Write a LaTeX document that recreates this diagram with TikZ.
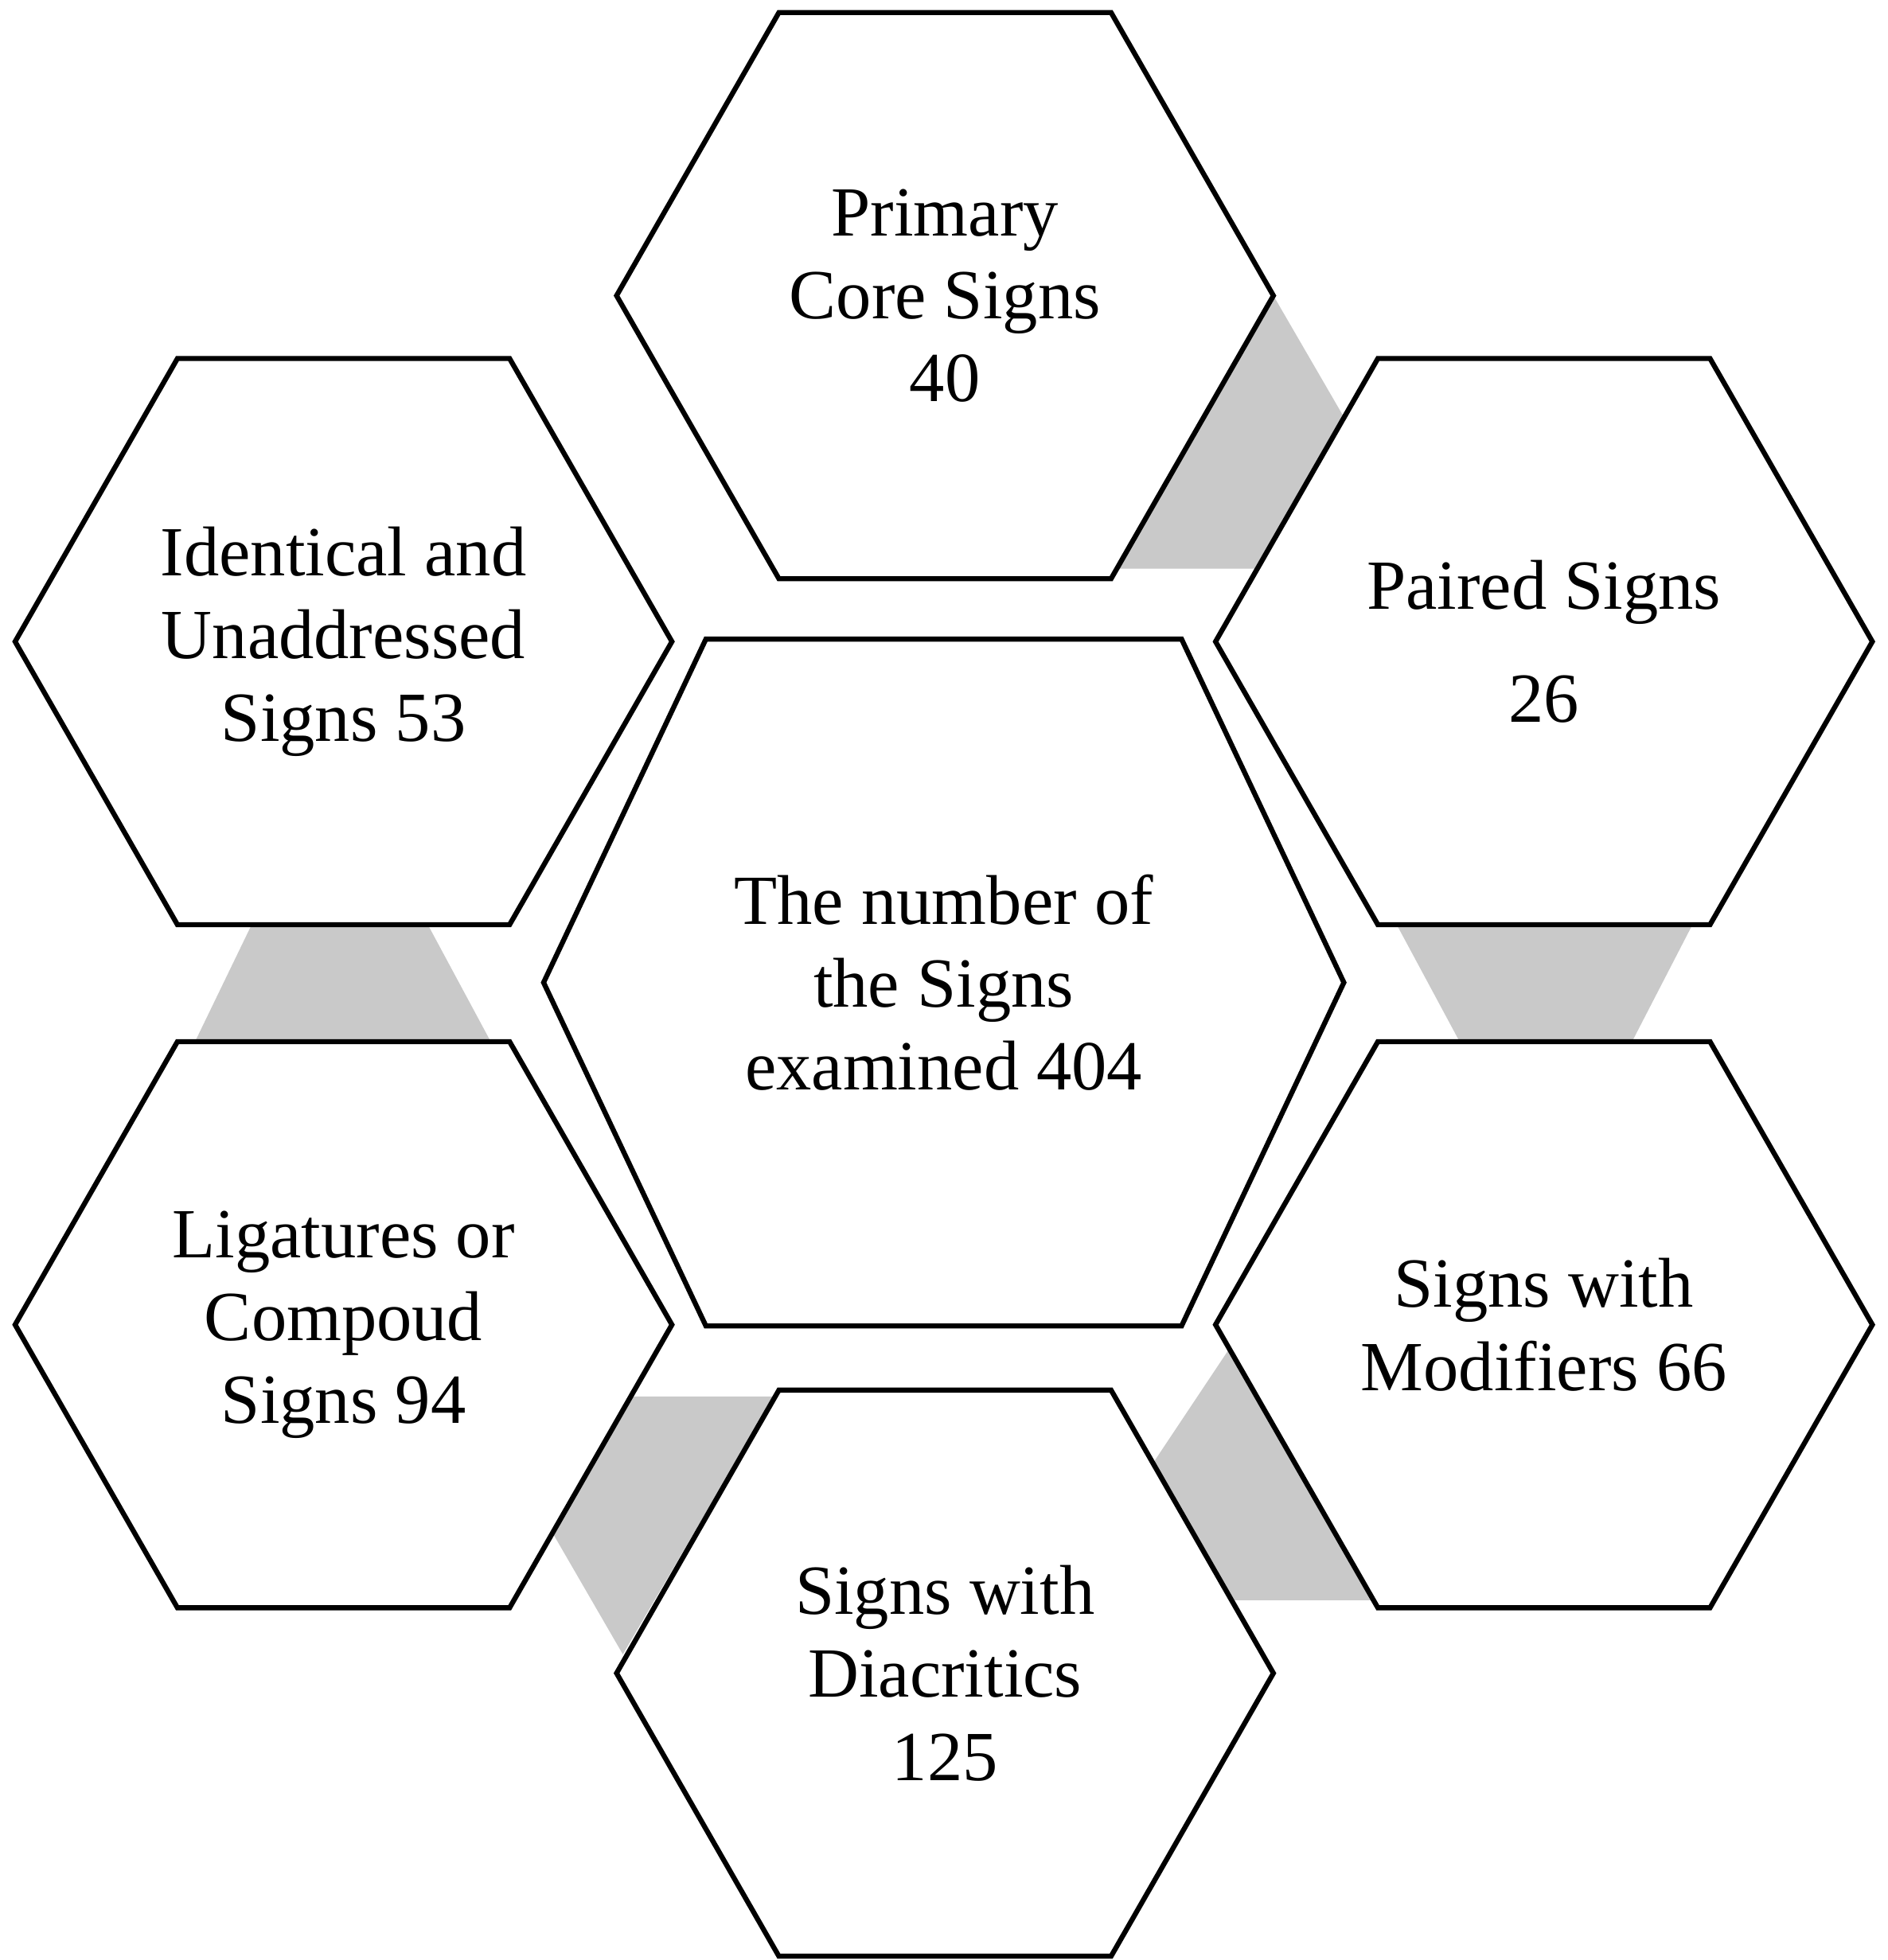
\documentclass[tikz,border=0pt]{standalone}
\usepackage{fontspec}
\setmainfont{Liberation Serif}
\tikzset{
  hexline/.style={draw=black,line width=4pt,fill=white,line join=miter},
  link/.style={fill=black!21,draw=none},
  lbl/.style={align=center,font=\fontsize{56}{66}\selectfont}
}
\newcommand\hexa[5]{% cx cy halfwidth halfheight halftop
  \draw[hexline] (#1-#3,#2) -- (#1-#5,#2-#4) -- (#1+#5,#2-#4) -- (#1+#3,#2) -- (#1+#5,#2+#4) -- (#1-#5,#2+#4) -- cycle;}
\begin{document}
\begin{tikzpicture}[x=1pt,y=-1pt]
\useasboundingbox (0,0) rectangle (1500,1558);
% links
\fill[link] (1012,235) -- (1070,335) -- (1000,452) -- (880,452) -- cycle;
\fill[link] (1110,735) -- (1345,735) -- (1297,828) -- (1160,828) -- cycle;
\fill[link] (985,1060) -- (1095,1272) -- (975,1272) -- (915,1165) -- cycle;
\fill[link] (500,1110) -- (615,1110) -- (495,1315) -- (440,1220) -- cycle;
\fill[link] (200,735) -- (340,735) -- (390,828) -- (155,828) -- cycle;
% hexagons
\hexa{751}{235}{261}{225}{132}
\hexa{1227}{510}{261}{225}{132}
\hexa{1227}{1053}{261}{225}{132}
\hexa{751}{1330}{261}{225}{132}
\hexa{273}{1053}{261}{225}{132}
\hexa{273}{510}{261}{225}{132}
\hexa{750}{781}{318}{273}{189}
% labels
\node[lbl] (top) at (751,235) {Primary\\Core Signs\\40};
\node[lbl,font=\fontsize{56}{90}\selectfont] (paired) at (1227,510) {Paired Signs\\26};
\node[lbl] (mod) at (1227,1053) {Signs with\\Modifiers 66};
\node[lbl] (dia) at (751,1330) {Signs with\\Diacritics\\125};
\node[lbl] (lig) at (273,1053) {Ligatures or\\Compoud\\Signs 94};
\node[lbl] (ide) at (273,510) {Identical and\\Unaddressed\\Signs 53};
\node[lbl] (ctr) at (750,781) {The number of\\the Signs\\examined 404};
\end{tikzpicture}
\end{document}
